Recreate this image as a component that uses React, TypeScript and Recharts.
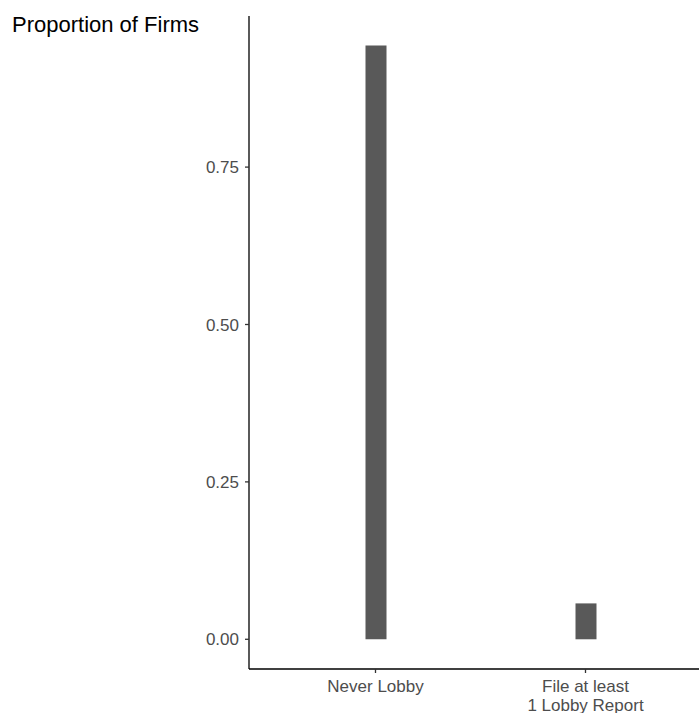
import React from 'react';
import { BarChart, Bar, XAxis, YAxis } from 'recharts';

const categories = ['Never Lobby', 'File at least\n1 Lobby Report'];
const proportions = [0.943, 0.057];
const yTicks = [0, 0.25, 0.5, 0.75];

const data = categories.map((name, i) => ({ name, value: proportions[i] }));

const FONT = 'Liberation Sans, Arial, sans-serif';
const TICK_COLOR = '#4D4D4D';
const BAR_COLOR = '#595959';

const MultiLineTick = (props: any) => {
  const { x, y, payload } = props;
  const lines = String(payload.value).split('\n');
  return (
    <g transform={`translate(${x},${y})`}>
      <text textAnchor="middle" fill={TICK_COLOR} fontSize={17} fontFamily={FONT}>
        {lines.map((line, i) => (
          <tspan key={i} x={0} dy={i === 0 ? 17 : 18.5}>
            {line}
          </tspan>
        ))}
      </text>
    </g>
  );
};

export default function App() {
  // fixed at the page origin so the 8px body margin and scrollbars play no part
  return (
    <div style={{ position: 'fixed', left: 0, top: 0, width: 699, height: 713, background: '#fff' }}>
      <div
        style={{
          position: 'absolute',
          left: 12,
          top: 14,
          fontFamily: FONT,
          fontSize: 22,
          color: '#000',
          lineHeight: 1,
          whiteSpace: 'nowrap',
        }}
      >
        Proportion of Firms
      </div>
      <BarChart
        width={699}
        height={713}
        data={data}
        margin={{ top: 16, right: 0, bottom: 0, left: 0 }}
      >
        <XAxis
          dataKey="name"
          height={44}
          padding={{ left: 21.5, right: 8.5 }}
          axisLine={{ stroke: '#000', strokeWidth: 1.3 }}
          tickLine={{ stroke: '#333', strokeWidth: 1.3 }}
          tickSize={4}
          tick={<MultiLineTick />}
          interval={0}
        />
        <YAxis
          type="number"
          width={249}
          domain={[-0.0472, 0.99]}
          ticks={yTicks}
          allowDataOverflow
          tickFormatter={(v: number) => v.toFixed(2)}
          axisLine={{ stroke: '#000', strokeWidth: 1.3 }}
          tickLine={{ stroke: '#333', strokeWidth: 1.3 }}
          tickSize={4}
          tickMargin={6}
          tick={{ fill: TICK_COLOR, fontSize: 17, fontFamily: FONT }}
        />
        <Bar dataKey="value" fill={BAR_COLOR} barSize={21} isAnimationActive={false} />
      </BarChart>
    </div>
  );
}
